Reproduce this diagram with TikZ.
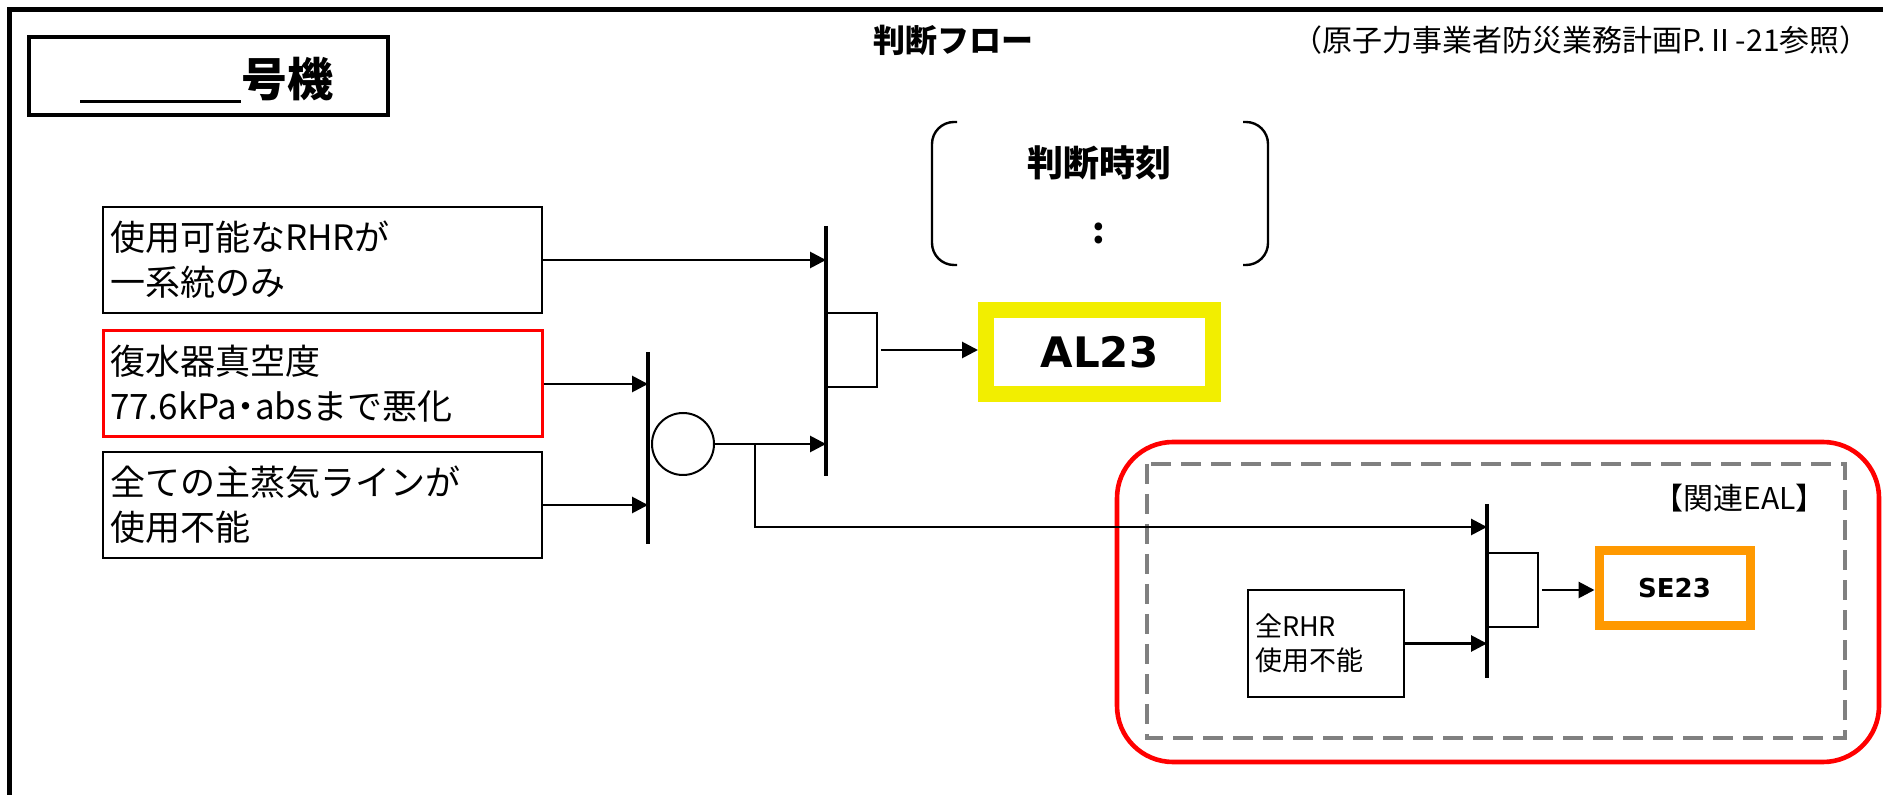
\documentclass[tikz,border=0pt]{standalone}
\usepackage{fontspec}
\setmainfont{Noto Sans CJK JP}
\newfontfamily\djv{DejaVu Sans}
\usetikzlibrary{arrows.meta,calc}
\definecolor{alyellow}{RGB}{242,238,0}
\definecolor{seorange}{RGB}{255,153,0}
\definecolor{dgray}{RGB}{128,128,128}
\begin{document}
\begin{tikzpicture}[x=0.5pt,y=-0.5pt,
  inbox/.style={draw, line width=1pt, minimum width=219.5pt, minimum height=53pt, text width=212.5pt, align=left, inner xsep=3.5pt, inner ysep=0pt, font=\fontsize{17.5}{22.5}\selectfont},
  conn/.style={line width=1.4pt, -{Triangle[length=8pt,width=8pt]}},
  bar/.style={line width=2pt},
  gatebox/.style={draw, line width=0.9pt, minimum width=25pt, minimum height=37pt, inner sep=0pt, anchor=west},
  bracket/.style={line width=1.2pt, rounded corners=11pt}]
\useasboundingbox (0,0) rectangle (1883,795);
\fill[white] (0,0) rectangle (1883,795);
% outer frame
\draw[line width=2.5pt] (9,795) -- (9,10) -- (1883,10);
% unit box
\node[draw, line width=2pt, minimum width=179.5pt, minimum height=39pt] (unitbox) at (208.5,76) {};
\node[anchor=base west, inner sep=0pt, font=\bfseries\fontsize{23}{23}\selectfont] (unit) at (80,97) {\rule[-3pt]{80.5pt}{1.5pt}号機};
% titles
\node[font=\bfseries\fontsize{16}{16}\selectfont] (title) at (953,40) {判断フロー};
\node[font=\fontsize{15}{15}\selectfont] (ref) at (1581,40) {（原子力事業者防災業務計画P.Ⅱ-21参照）};
% bracket
\draw[bracket] (957,122) -- (932,122) -- (932,265) -- (957,265);
\draw[bracket] (1243,122) -- (1268,122) -- (1268,265) -- (1243,265);
\node[font=\bfseries\fontsize{18}{18}\selectfont] (jtime) at (1099,163) {判断時刻};
\node[font=\bfseries\fontsize{18}{18}\selectfont] (colon) at (1099,233) {:};
% input boxes
\node[inbox] (in1) at (322.5,260) {使用可能なRHRが\\一系統のみ};
\node[inbox, draw=red, line width=1.5pt] (in2) at (322.5,384) {復水器真空度\\77.6kPa\makebox[0.5em][c]{・}absまで悪化};
\node[inbox] (in3) at (322.5,505) {全ての主蒸気ラインが\\使用不能};
% gate 1
\coordinate (g1t) at (648,352);
\coordinate (g1b) at (648,544);
\draw[bar] (g1t) -- (g1b);
\node[circle, draw, line width=1pt, minimum size=31pt, inner sep=0pt] (orc) at (683,444) {};
% gate 2
\coordinate (g2t) at (826,226);
\coordinate (g2b) at (826,476);
\draw[bar] (g2t) -- (g2b);
\node[gatebox] (and1) at (826,350) {};
\node[draw=alyellow, line width=8pt, minimum width=113.5pt, minimum height=42pt, font=\djv\bfseries\fontsize{21}{21}\selectfont] (al) at (1099.5,352) {AL23};
% connectors
\draw[conn] (in1.east) -- (in1.east -| g2t);
\draw[conn] (in2.east) -- (in2.east -| g1t);
\draw[conn] (in3.east) -- (in3.east -| g1t);
\draw[conn] (orc.east) -- (orc.east -| g2t);
\draw[conn, shorten <=1.5pt] (and1.east) -- (and1.east -| al.west);
% SE area
\draw[red, line width=2.3pt, rounded corners=28pt] (1117,442) rectangle (1879,762);
\draw[dgray, line width=2pt, dash pattern=on 10pt off 5pt] (1147,464) rectangle (1845,738);
\node[anchor=east, font=\fontsize{15}{15}\selectfont] (eal) at (1833,498) {【関連EAL】};
\coordinate (g3t) at (1487,504);
\coordinate (g3b) at (1487,678);
\coordinate (g3in) at (1487,527);
\draw[bar] (g3t) -- (g3b);
\node[gatebox] (and2) at (1487,590) {};
\node[draw=seorange, line width=4.5pt, minimum width=75.5pt, minimum height=37.5pt, font=\djv\bfseries\fontsize{13}{13}\selectfont] (se) at (1674.5,588.5) {SE23};
\node[draw, line width=1pt, minimum width=78pt, minimum height=53.5pt, text width=71pt, align=left, inner xsep=3.5pt, inner ysep=0pt, font=\fontsize{13.5}{17}\selectfont] (allrhr) at (1326,643.5) {全RHR\\使用不能};
\coordinate (br) at ($(orc.east)+(40,0)$);
\draw[conn] (br) |- (g3in);
\draw[conn] (allrhr.east) -- (allrhr.east -| g3t);
\draw[conn, shorten <=1.5pt] (and2.east) -- (and2.east -| se.west);
\end{tikzpicture}
\end{document}
